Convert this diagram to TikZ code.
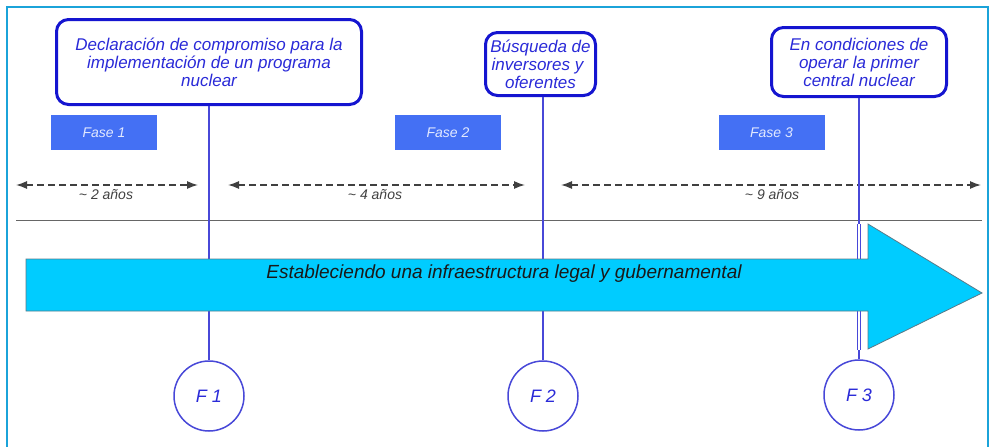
\documentclass[tikz,border=0pt]{standalone}
\usepackage{fontspec}
\setmainfont{Liberation Sans}
\usetikzlibrary{arrows.meta}
\definecolor{framecol}{HTML}{1BA3D9}
\definecolor{boxblue}{HTML}{1515D0}
\definecolor{txtblue}{HTML}{2A2AD8}
\definecolor{linblue}{HTML}{4848D8}
\definecolor{fasecol}{HTML}{4470F4}
\definecolor{fasetxt}{HTML}{E2E9FF}
\definecolor{arrcyan}{HTML}{00CCFF}
\definecolor{arredge}{HTML}{5A7A88}
\definecolor{dashcol}{HTML}{404040}
\begin{document}
\begin{tikzpicture}[x=1pt,y=-1pt,
  eventbox/.style={draw=boxblue, line width=3pt, rounded corners=12pt, fill=white,
    text=txtblue, font=\fontsize{17}{18}\selectfont\itshape, align=center, inner sep=0pt},
  fasebox/.style={fill=fasecol, text=fasetxt, font=\fontsize{14}{16}\selectfont\itshape,
    minimum width=106pt, minimum height=35pt, inner sep=0pt},
  milestone/.style={circle, draw=linblue, line width=1.5pt, fill=white, minimum size=70pt,
    inner sep=0pt, text=txtblue, font=\fontsize{18}{20}\selectfont\itshape},
  vline/.style={draw=linblue, line width=1.5pt},
  span/.style={draw=dashcol, line width=1.3pt, dash pattern=on 7pt off 4pt,
    {Latex[length=11pt,width=8pt]}-{Latex[length=11pt,width=8pt]}},
  spanlabel/.style={text=dashcol, font=\fontsize{14}{16}\selectfont\itshape, inner sep=0pt},
  bigarrow/.style={fill=arrcyan, draw=arredge, line width=0.8pt}]
\useasboundingbox (0,0) rectangle (991,447);
% frame
\draw[framecol, line width=2.5pt] (7,447) -- (7,7) -- (988,7) -- (988,447);
% baseline
\coordinate (g1) at (16,220);
\coordinate (g2) at (982,220);
\draw[draw=gray!80!black, line width=1pt] (g1) -- (g2);
% spans
\coordinate (d1a) at (16,185);  \coordinate (d1b) at (198,185);
\coordinate (d2a) at (228,185); \coordinate (d2b) at (525,185);
\coordinate (d3a) at (561,185); \coordinate (d3b) at (981,185);
\draw[span] (d1a) -- (d1b);
\draw[span] (d2a) -- (d2b);
\draw[span] (d3a) -- (d3b);
\node[spanlabel] (l1) at (106,195) {\textasciitilde\ 2 años};
\node[spanlabel] (l2) at (375,195) {\textasciitilde\ 4 años};
\node[spanlabel] (l3) at (772,195) {\textasciitilde\ 9 años};
% phases
\node[fasebox] (f1) at (104,132.5) {Fase 1};
\node[fasebox] (f2) at (448,132.5) {Fase 2};
\node[fasebox] (f3) at (771.5,132.5) {Fase 3};
% event boxes
\node[eventbox, minimum width=305pt, minimum height=85pt] (b1) at (209,62)
  {Declaración de compromiso para la\\implementación de un programa\\nuclear};
\node[eventbox, minimum width=110pt, minimum height=63pt] (b2) at (540.5,64)
  {Búsqueda de\\inversores y\rule{6pt}{0pt}\\oferentes};
\node[eventbox, minimum width=175pt, minimum height=69pt] (b3) at (859,62)
  {En condiciones de\\operar la primer\\central nuclear};
% milestones
\node[milestone] (c1) at (209,396) {F 1};
\node[milestone] (c2) at (543,396) {F 2};
\node[milestone] (c3) at (859,395) {F 3};
% connectors
\draw[vline] (c1.north) -- (c1.north |- b1.south);
\draw[vline] (c2.north) -- (c2.north |- b2.south);
\draw[vline] (c3.north) -- (c3.north |- b3.south);
\coordinate (w1) at (859,224);
\coordinate (w2) at (859,350);
\draw[white, line width=1.2pt] (w1) -- (w2);
\draw[linblue, line width=1pt] ([xshift=-1.7pt]w1) -- ([xshift=-1.7pt]w2);
\draw[linblue, line width=1pt] ([xshift=1.7pt]w1) -- ([xshift=1.7pt]w2);
% big arrow
\draw[bigarrow] (26,259) -- (868,259) -- (868,224) -- (982,293) -- (868,349)
  -- (868,311) -- (26,311) -- cycle;
\node[text=black!90, font=\fontsize{19}{21}\selectfont\itshape, inner sep=0pt] (arrtxt) at (504,274)
  {Estableciendo una infraestructura legal y gubernamental};
\end{tikzpicture}
\end{document}
